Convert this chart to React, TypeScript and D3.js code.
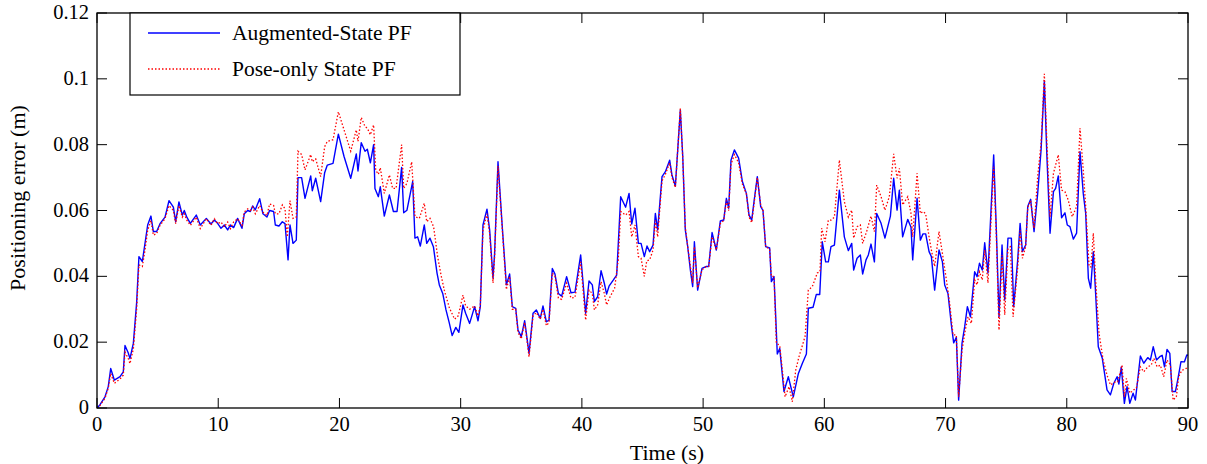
import React from "react";
import * as d3 from "d3";

// Augmented-State PF (blue, solid)
const timeAug = [0, 0.25, 0.66, 0.93, 1.13, 1.43, 1.9, 2.17, 2.31, 2.58, 2.72, 3.0, 3.27, 3.46, 3.74, 3.96, 4.18, 4.45, 4.65, 4.92, 5.2, 5.61, 5.94, 6.3, 6.49, 6.76, 7.04, 7.2, 7.42, 7.7, 8.19, 8.52, 9.02, 9.4, 9.68, 9.95, 10.23, 10.5, 10.78, 11.0, 11.27, 11.6, 11.96, 12.15, 12.43, 12.65, 12.84, 13.06, 13.42, 13.69, 14.02, 14.24, 14.57, 14.71, 15.01, 15.29, 15.51, 15.76, 15.92, 16.17, 16.44, 16.58, 16.88, 17.16, 17.63, 17.76, 18.04, 18.45, 18.78, 19.0, 19.47, 19.91, 20.38, 20.93, 21.39, 21.53, 21.8, 22.11, 22.3, 22.55, 22.82, 22.93, 23.21, 23.37, 23.7, 24.12, 24.45, 24.75, 25.13, 25.3, 25.57, 26.04, 26.23, 26.45, 26.67, 27.0, 27.2, 27.47, 27.75, 28.05, 28.24, 28.52, 28.79, 29.05, 29.3, 29.6, 29.85, 30.19, 30.41, 30.74, 31.15, 31.43, 31.62, 31.84, 32.17, 32.39, 32.67, 32.8, 33.08, 33.44, 33.77, 34.04, 34.26, 34.54, 34.73, 35.0, 35.28, 35.64, 35.97, 36.24, 36.57, 36.79, 37.07, 37.29, 37.56, 37.78, 38.06, 38.33, 38.74, 39.1, 39.43, 39.9, 40.31, 40.59, 40.86, 41.03, 41.3, 41.58, 41.85, 42.04, 42.24, 42.6, 42.87, 43.2, 43.61, 43.89, 44.11, 44.38, 44.66, 44.88, 45.15, 45.37, 45.59, 45.87, 46.06, 46.25, 46.61, 46.89, 47.24, 47.43, 47.71, 48.12, 48.32, 48.53, 48.73, 48.95, 49.14, 49.28, 49.55, 49.91, 50.27, 50.46, 50.74, 51.09, 51.42, 51.7, 51.92, 52.11, 52.3, 52.58, 52.93, 53.24, 53.57, 53.79, 54.01, 54.2, 54.47, 54.75, 54.94, 55.16, 55.49, 55.63, 55.85, 56.12, 56.32, 56.67, 57.03, 57.44, 57.86, 58.19, 58.52, 58.68, 59.07, 59.34, 59.62, 59.83, 60.11, 60.33, 60.55, 60.83, 61.24, 61.65, 61.98, 62.26, 62.42, 62.7, 62.97, 63.16, 63.44, 63.63, 63.85, 64.13, 64.32, 64.68, 65.0, 65.45, 65.72, 66.0, 66.19, 66.46, 66.88, 67.15, 67.29, 67.65, 67.92, 68.14, 68.36, 68.64, 68.83, 69.1, 69.46, 69.74, 69.93, 70.2, 70.48, 70.67, 70.89, 71.08, 71.36, 71.58, 71.8, 72.05, 72.4, 72.6, 72.8, 73.03, 73.23, 73.5, 73.97, 74.19, 74.41, 74.66, 74.88, 75.15, 75.43, 75.62, 75.95, 76.15, 76.34, 76.61, 76.78, 77.02, 77.3, 77.6, 77.88, 78.15, 78.35, 78.62, 78.9, 79.08, 79.3, 79.57, 79.85, 80.04, 80.26, 80.54, 80.81, 81.09, 81.36, 81.56, 81.78, 81.97, 82.19, 82.38, 82.6, 82.93, 83.32, 83.6, 83.88, 84.15, 84.3, 84.5, 84.75, 84.97, 85.2, 85.47, 85.66, 85.85, 86.07, 86.35, 86.68, 86.9, 87.13, 87.4, 87.67, 87.87, 88.06, 88.27, 88.5, 88.69, 88.96, 89.15, 89.42, 89.7, 89.9, 90];
const errAug = [0, 0.001, 0.0034, 0.0065, 0.012, 0.0085, 0.0095, 0.011, 0.019, 0.0167, 0.015, 0.0197, 0.032, 0.046, 0.0445, 0.05, 0.0556, 0.0583, 0.0536, 0.0536, 0.056, 0.058, 0.063, 0.061, 0.0566, 0.0626, 0.0586, 0.06, 0.0579, 0.0561, 0.0586, 0.0556, 0.0576, 0.0559, 0.0571, 0.0561, 0.0546, 0.0556, 0.0541, 0.0556, 0.0548, 0.0576, 0.0546, 0.059, 0.06, 0.0597, 0.0614, 0.0602, 0.0636, 0.059, 0.058, 0.06, 0.0597, 0.0556, 0.0553, 0.0566, 0.056, 0.045, 0.0556, 0.05, 0.051, 0.07, 0.07, 0.0637, 0.0705, 0.066, 0.0698, 0.0627, 0.0715, 0.0738, 0.0743, 0.0832, 0.0764, 0.0698, 0.0772, 0.072, 0.0806, 0.078, 0.0786, 0.0745, 0.08, 0.0667, 0.0642, 0.0672, 0.0583, 0.0647, 0.0597, 0.0597, 0.0731, 0.0593, 0.0601, 0.0688, 0.0516, 0.052, 0.0492, 0.0556, 0.05, 0.0516, 0.049, 0.041, 0.0374, 0.0348, 0.0298, 0.026, 0.022, 0.0245, 0.023, 0.0313, 0.0288, 0.0257, 0.0308, 0.0265, 0.0308, 0.0556, 0.0604, 0.0541, 0.0394, 0.047, 0.0748, 0.0546, 0.0374, 0.0407, 0.0308, 0.0303, 0.0237, 0.0217, 0.0265, 0.0166, 0.0288, 0.0298, 0.0272, 0.031, 0.0262, 0.0267, 0.0424, 0.0407, 0.0348, 0.034, 0.0399, 0.035, 0.0352, 0.0465, 0.0288, 0.0386, 0.0374, 0.0323, 0.0338, 0.0417, 0.0379, 0.0346, 0.037, 0.0389, 0.0404, 0.0642, 0.061, 0.0652, 0.0559, 0.0607, 0.05, 0.05, 0.046, 0.0492, 0.0475, 0.0495, 0.0591, 0.0541, 0.0703, 0.0718, 0.0753, 0.0708, 0.0674, 0.0905, 0.0764, 0.0541, 0.049, 0.0419, 0.0369, 0.0505, 0.0358, 0.0424, 0.043, 0.043, 0.0533, 0.048, 0.0568, 0.0571, 0.0637, 0.0607, 0.0753, 0.0784, 0.0759, 0.0688, 0.0652, 0.0586, 0.0571, 0.0627, 0.0703, 0.0612, 0.06, 0.049, 0.0486, 0.0384, 0.0399, 0.0164, 0.0181, 0.005, 0.0095, 0.0034, 0.0105, 0.0136, 0.0164, 0.0303, 0.0306, 0.0345, 0.0345, 0.0505, 0.0444, 0.0444, 0.049, 0.0495, 0.0662, 0.052, 0.0478, 0.05, 0.0419, 0.0455, 0.0465, 0.0407, 0.045, 0.0465, 0.0498, 0.0444, 0.0591, 0.0561, 0.0516, 0.0583, 0.0698, 0.0601, 0.0662, 0.052, 0.0573, 0.0549, 0.045, 0.0637, 0.051, 0.0529, 0.0529, 0.0475, 0.046, 0.0358, 0.048, 0.0444, 0.0374, 0.0348, 0.0252, 0.0198, 0.0215, 0.0024, 0.0197, 0.0247, 0.0308, 0.0277, 0.0414, 0.0399, 0.044, 0.0419, 0.0502, 0.041, 0.0769, 0.0541, 0.0277, 0.0495, 0.0328, 0.0516, 0.0516, 0.0308, 0.045, 0.0561, 0.0475, 0.0495, 0.0612, 0.0634, 0.0536, 0.0652, 0.0784, 0.0994, 0.0774, 0.0531, 0.0657, 0.0667, 0.0705, 0.0578, 0.0593, 0.0556, 0.0551, 0.0513, 0.0531, 0.0779, 0.0652, 0.0591, 0.0394, 0.0364, 0.0475, 0.0348, 0.0186, 0.0151, 0.0055, 0.004, 0.0075, 0.0095, 0.0073, 0.0125, 0.0014, 0.0065, 0.0014, 0.0045, 0.0024, 0.0085, 0.0158, 0.0136, 0.0153, 0.0146, 0.0186, 0.0146, 0.0156, 0.016, 0.0125, 0.0178, 0.0166, 0.005, 0.005, 0.0085, 0.0141, 0.014, 0.0161, 0.016];

// Pose-only State PF (red, dotted)
const timePose = [0, 0.25, 0.66, 0.93, 1.13, 1.43, 1.9, 2.17, 2.31, 2.58, 2.72, 3.0, 3.27, 3.46, 3.74, 3.96, 4.18, 4.45, 4.65, 4.92, 5.2, 5.61, 5.94, 6.3, 6.49, 6.76, 7.04, 7.2, 7.42, 7.7, 8.19, 8.52, 9.02, 9.4, 9.68, 9.95, 10.23, 10.5, 10.78, 11.0, 11.27, 11.6, 11.96, 12.15, 12.43, 12.65, 12.84, 13.06, 13.42, 13.69, 14.02, 14.24, 14.57, 14.71, 15.01, 15.29, 15.51, 15.7, 15.92, 16.17, 16.44, 16.58, 16.88, 17.16, 17.63, 17.76, 18.04, 18.45, 18.78, 19.0, 19.47, 19.91, 20.38, 20.93, 21.39, 21.53, 21.8, 22.11, 22.3, 22.55, 22.82, 22.99, 23.21, 23.37, 23.7, 24.12, 24.39, 24.67, 25.13, 25.3, 25.57, 25.96, 26.23, 26.59, 27.0, 27.2, 27.47, 27.77, 28.1, 28.38, 28.65, 29.07, 29.5, 29.8, 30.19, 30.41, 30.74, 31.15, 31.43, 31.62, 31.84, 32.17, 32.39, 32.67, 32.8, 33.08, 33.44, 33.77, 34.04, 34.26, 34.54, 34.73, 35.0, 35.28, 35.64, 35.97, 36.24, 36.57, 36.79, 37.07, 37.29, 37.56, 37.78, 38.06, 38.33, 38.74, 39.1, 39.43, 39.9, 40.31, 40.59, 40.86, 41.03, 41.3, 41.58, 41.85, 42.04, 42.3, 42.7, 43.0, 43.2, 43.61, 43.89, 44.11, 44.38, 44.66, 44.88, 45.15, 45.35, 45.59, 45.87, 46.06, 46.25, 46.61, 46.89, 47.24, 47.43, 47.71, 48.12, 48.32, 48.53, 48.73, 48.95, 49.14, 49.28, 49.55, 49.91, 50.27, 50.46, 50.74, 51.09, 51.42, 51.7, 51.92, 52.11, 52.3, 52.58, 52.93, 53.24, 53.57, 53.79, 54.01, 54.2, 54.47, 54.75, 54.94, 55.16, 55.49, 55.63, 55.85, 56.04, 56.32, 56.48, 56.76, 57.09, 57.36, 57.64, 57.91, 58.41, 58.68, 59.01, 59.42, 59.64, 59.78, 60.06, 60.33, 60.55, 60.83, 61.24, 61.65, 61.98, 62.26, 62.42, 62.7, 62.97, 63.16, 63.52, 63.85, 64.13, 64.32, 64.68, 65.0, 65.36, 65.72, 66.0, 66.19, 66.46, 66.88, 67.15, 67.29, 67.65, 67.92, 68.14, 68.36, 68.64, 68.83, 69.1, 69.46, 69.74, 70.07, 70.34, 70.62, 70.89, 71.08, 71.36, 71.63, 71.85, 72.13, 72.4, 72.6, 72.8, 73.03, 73.23, 73.5, 73.97, 74.19, 74.41, 74.66, 74.88, 75.15, 75.35, 75.57, 75.95, 76.15, 76.34, 76.61, 76.78, 77.02, 77.3, 77.6, 77.88, 78.15, 78.35, 78.62, 78.9, 79.3, 79.57, 79.85, 80.12, 80.45, 80.81, 81.09, 81.36, 81.56, 81.84, 82.0, 82.19, 82.38, 82.66, 83.0, 83.32, 83.6, 83.93, 84.2, 84.42, 84.56, 84.75, 84.92, 85.2, 85.52, 85.74, 86.07, 86.35, 86.68, 86.96, 87.18, 87.45, 87.72, 88.0, 88.27, 88.55, 88.77, 89.04, 89.23, 89.5, 89.77, 90];
const errPose = [0, 0.0008, 0.003, 0.006, 0.0105, 0.0075, 0.0088, 0.01, 0.017, 0.015, 0.0135, 0.018, 0.03, 0.0435, 0.043, 0.048, 0.054, 0.057, 0.0525, 0.053, 0.0555, 0.0575, 0.0615, 0.06, 0.056, 0.0615, 0.058, 0.059, 0.057, 0.0555, 0.058, 0.0545, 0.0575, 0.0555, 0.0575, 0.056, 0.0565, 0.055, 0.0565, 0.0545, 0.0565, 0.0575, 0.0555, 0.0595, 0.0605, 0.06, 0.061, 0.059, 0.0615, 0.0595, 0.0585, 0.062, 0.0615, 0.059, 0.059, 0.0617, 0.0605, 0.052, 0.063, 0.0576, 0.058, 0.078, 0.077, 0.0723, 0.077, 0.0748, 0.0757, 0.0703, 0.0794, 0.081, 0.0815, 0.09, 0.0845, 0.078, 0.0845, 0.081, 0.0883, 0.0855, 0.085, 0.083, 0.086, 0.0723, 0.071, 0.073, 0.0652, 0.0708, 0.0667, 0.0667, 0.08, 0.0667, 0.0683, 0.0748, 0.0581, 0.0576, 0.0622, 0.0566, 0.0576, 0.055, 0.046, 0.0404, 0.0358, 0.0304, 0.027, 0.028, 0.0343, 0.031, 0.03, 0.031, 0.028, 0.031, 0.054, 0.059, 0.053, 0.038, 0.046, 0.0735, 0.054, 0.036, 0.04, 0.03, 0.03, 0.023, 0.021, 0.026, 0.0155, 0.028, 0.029, 0.027, 0.03, 0.025, 0.026, 0.041, 0.04, 0.0334, 0.033, 0.0379, 0.0334, 0.0336, 0.0444, 0.0267, 0.0358, 0.0348, 0.0298, 0.0313, 0.0384, 0.0348, 0.0313, 0.0336, 0.0364, 0.045, 0.0597, 0.0586, 0.0597, 0.052, 0.0556, 0.046, 0.0455, 0.04, 0.0447, 0.045, 0.048, 0.057, 0.052, 0.069, 0.071, 0.0745, 0.07, 0.067, 0.091, 0.076, 0.055, 0.049, 0.043, 0.038, 0.049, 0.0365, 0.042, 0.043, 0.043, 0.052, 0.048, 0.056, 0.057, 0.063, 0.06, 0.074, 0.077, 0.0745, 0.068, 0.065, 0.058, 0.0563, 0.062, 0.07, 0.0617, 0.06, 0.049, 0.0483, 0.04, 0.04, 0.0197, 0.019, 0.0136, 0.0034, 0.0065, 0.0019, 0.0115, 0.0156, 0.0217, 0.0358, 0.0369, 0.041, 0.0415, 0.0546, 0.0505, 0.0571, 0.0571, 0.058, 0.0753, 0.0627, 0.058, 0.0601, 0.0516, 0.0551, 0.0556, 0.05, 0.054, 0.0583, 0.0536, 0.0677, 0.0642, 0.0601, 0.0642, 0.0772, 0.0698, 0.0728, 0.0617, 0.0642, 0.0591, 0.052, 0.0713, 0.0591, 0.0597, 0.059, 0.052, 0.048, 0.043, 0.0536, 0.047, 0.0389, 0.0318, 0.0222, 0.0222, 0.0034, 0.0176, 0.0237, 0.0277, 0.0257, 0.0389, 0.0374, 0.0414, 0.0389, 0.048, 0.038, 0.0733, 0.052, 0.0237, 0.0465, 0.0283, 0.0485, 0.049, 0.0277, 0.0425, 0.054, 0.0455, 0.049, 0.061, 0.063, 0.0546, 0.0703, 0.0804, 0.1015, 0.0814, 0.0581, 0.0713, 0.0769, 0.0662, 0.0657, 0.0632, 0.0581, 0.0612, 0.085, 0.0723, 0.0612, 0.0429, 0.0429, 0.0531, 0.0389, 0.0227, 0.0146, 0.01, 0.007, 0.0078, 0.008, 0.011, 0.013, 0.0034, 0.009, 0.0045, 0.0055, 0.006, 0.0125, 0.011, 0.0125, 0.013, 0.0151, 0.0125, 0.013, 0.0095, 0.0146, 0.013, 0.0024, 0.0034, 0.0095, 0.0115, 0.0118, 0.0125];

const xTicks = [0, 10, 20, 30, 40, 50, 60, 70, 80, 90];
const yTicks = [0, 0.02, 0.04, 0.06, 0.08, 0.1, 0.12];
const yTickLabels = ["0", "0.02", "0.04", "0.06", "0.08", "0.1", "0.12"];

const W = 1207;
const H = 464;
const left = 97;
const right = 1188;
const top = 13;
const bottom = 408;
const serif = "'Liberation Serif', 'DejaVu Serif', serif";

export default function App() {
  const x = d3.scaleLinear().domain([0, 90]).range([left, right]);
  const y = d3.scaleLinear().domain([0, 0.12]).range([bottom, top]);

  const line = d3
    .line<[number, number]>()
    .x((d) => x(d[0]))
    .y((d) => y(d[1]));

  const augPts = timeAug.map((t, i) => [t, errAug[i]] as [number, number]);
  const posePts = timePose.map((t, i) => [t, errPose[i]] as [number, number]);

  const tick = 10;

  return (
    <svg
      width={W}
      height={H}
      style={{ position: "absolute", left: 0, top: 0, background: "#fff" }}
      fontFamily={serif}
    >
      <defs>
        <clipPath id="plot">
          <rect x={left} y={top} width={right - left} height={bottom - top} />
        </clipPath>
      </defs>

      <g clipPath="url(#plot)">
        <path d={line(augPts) || ""} fill="none" stroke="#0000ff" strokeWidth={1.4} strokeLinejoin="round" />
        <path d={line(posePts) || ""} fill="none" stroke="#ff0000" strokeWidth={1.3} strokeDasharray="1.5,2" />
      </g>

      {/* frame */}
      <rect x={left} y={top} width={right - left} height={bottom - top} fill="none" stroke="#000" strokeWidth={1.3} />

      {xTicks.map((t) => (
        <g key={"x" + t}>
          <line x1={x(t)} x2={x(t)} y1={bottom} y2={bottom - tick} stroke="#000" />
          <line x1={x(t)} x2={x(t)} y1={top} y2={top + tick} stroke="#000" />
          <text x={x(t)} y={bottom + 23} textAnchor="middle" fontSize={20.5}>
            {t}
          </text>
        </g>
      ))}

      {yTicks.map((v, i) => (
        <g key={"y" + i}>
          <line x1={left} x2={left + tick} y1={y(v)} y2={y(v)} stroke="#000" />
          <line x1={right} x2={right - tick} y1={y(v)} y2={y(v)} stroke="#000" />
          <text x={left - 8} y={y(v) + 6} textAnchor="end" fontSize={20.5}>
            {yTickLabels[i]}
          </text>
        </g>
      ))}

      <text x={667} y={460} textAnchor="middle" fontSize={22}>
        Time (s)
      </text>
      <text transform={`translate(25,198) rotate(-90)`} textAnchor="middle" fontSize={22}>
        Positioning error (m)
      </text>

      {/* legend */}
      <rect x={130} y={top} width={330} height={82} fill="#fff" stroke="#000" strokeWidth={1.2} />
      <line x1={148} x2={220} y1={33} y2={33} stroke="#0000ff" strokeWidth={1.4} />
      <text x={232} y={40} fontSize={21.5}>
        Augmented-State PF
      </text>
      <line x1={148} x2={220} y1={69} y2={69} stroke="#ff0000" strokeWidth={1.3} strokeDasharray="1.5,2" />
      <text x={232} y={76} fontSize={21.5}>
        Pose-only State PF
      </text>
    </svg>
  );
}
